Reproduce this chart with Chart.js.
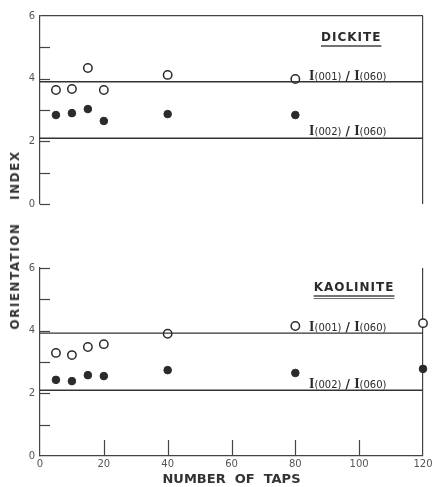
<!DOCTYPE html>
<html><head><meta charset="utf-8">
<script src="https://cdn.jsdelivr.net/npm/chart.js@4.4.1/dist/chart.umd.min.js"></script>
<style>
html,body{margin:0;padding:0;background:#fff;}
#wrap{position:relative;width:432px;height:487px;overflow:hidden;background:#fff;}
#c1{position:absolute;left:0;top:0;}
#c2{position:absolute;left:0;top:220px;}
#ylab{position:absolute;left:15px;top:240px;transform:translate(-50%,-50%) rotate(-90deg);font:bold 12px "DejaVu Sans",sans-serif;letter-spacing:1.5px;color:#333;white-space:pre;}
</style></head><body>
<div id="wrap">
<canvas id="c1" width="432" height="220"></canvas>
<canvas id="c2" width="432" height="267"></canvas>
<div id="ylab">ORIENTATION    INDEX</div>
</div>
<script>
// ---- data ----
const dickiteTaps = [5, 10, 15, 20, 40, 80];
const dickite001 = [3.64, 3.67, 4.34, 3.64, 4.12, 3.99];
const dickite002 = [2.84, 2.90, 3.03, 2.65, 2.87, 2.84];
const kaoliniteTaps = [5, 10, 15, 20, 40, 80, 120];
const kaolinite001 = [3.29, 3.22, 3.48, 3.57, 3.90, 4.15, 4.24];
const kaolinite002 = [2.43, 2.39, 2.58, 2.55, 2.74, 2.65, 2.78];
const refLineX = [0, 120];
const dickiteRefLines = [3.9, 2.1];
const kaoliniteRefLines = [3.92, 2.1];
const xTickLabels = ['0', '20', '40', '60', '80', '100', '120'];
const yTickLabels = ['0', '', '2', '', '4', '', '6'];
const ratioLabel001 = ['I', '(001)', ' / ', 'I', '(060)'];
const ratioLabel002 = ['I', '(002)', ' / ', 'I', '(060)'];

const INK = '#2b2b2b';
const LINE = '#444';

function pts(xs, ys){ return xs.map((x,i)=>({x:x, y:ys[i]})); }
function refLine(v){ return refLineX.map(x=>({x:x, y:v})); }

const panelPlugin = {
  id: 'panel',
  afterDraw(chart){
    const o = chart.options.plugins.panel;
    if(!o) return;
    const {ctx, chartArea: ca, scales:{x, y}} = chart;
    ctx.save();
    ctx.strokeStyle = LINE; ctx.lineWidth = 1.2;
    for(const v of o.yTicks){
      const py = Math.round(y.getPixelForValue(v)) + 0.5;
      ctx.beginPath(); ctx.moveTo(ca.left, py); ctx.lineTo(ca.left + 10, py); ctx.stroke();
    }
    for(const v of o.xTicks){
      const px = Math.round(x.getPixelForValue(v)) + 0.5;
      ctx.beginPath(); ctx.moveTo(px, ca.bottom); ctx.lineTo(px, ca.bottom - 16); ctx.stroke();
    }
    ctx.fillStyle = INK;
    ctx.font = 'bold 12px "DejaVu Sans", sans-serif';
    ctx.textAlign = 'center'; ctx.textBaseline = 'middle';
    const tx = x.getPixelForValue(o.title.x), ty = y.getPixelForValue(o.title.y);
    if (ctx.letterSpacing !== undefined) ctx.letterSpacing = '1px';
    ctx.fillText(o.title.text, tx, ty);
    const w = ctx.measureText(o.title.text).width;
    if (ctx.letterSpacing !== undefined) ctx.letterSpacing = '0px';
    ctx.lineWidth = 1.5;
    ctx.beginPath(); ctx.moveTo(tx - w/2, ty + 8); ctx.lineTo(tx + w/2, ty + 8); ctx.stroke();
    if (o.title.double){
      ctx.lineWidth = 0.8;
      ctx.beginPath(); ctx.moveTo(tx - w/2, ty + 10.5); ctx.lineTo(tx + w/2, ty + 10.5); ctx.stroke();
    }
    ctx.textAlign = 'left'; ctx.textBaseline = 'alphabetic';
    const fonts = ['bold 14px "Liberation Serif", serif', '10px "DejaVu Sans", sans-serif',
                   'bold 12px "DejaVu Sans", sans-serif', 'bold 14px "Liberation Serif", serif',
                   '10px "DejaVu Sans", sans-serif'];
    for(const lab of o.labels){
      let px = x.getPixelForValue(lab.x);
      const py = y.getPixelForValue(lab.y) + 5;
      lab.parts.forEach((t, i)=>{
        ctx.font = fonts[i];
        ctx.fillText(t, px, py);
        px += ctx.measureText(t).width;
      });
    }
    ctx.restore();
  }
};

function makeChart(el, cfg){
  const openDs = {
    label: cfg.name + ' I(001)/I(060)', data: pts(cfg.taps, cfg.v001),
    pointStyle: 'circle', pointRadius: 4.2, pointBackgroundColor: '#fff',
    pointBorderColor: INK, pointBorderWidth: 1.5, clip: false
  };
  const fillDs = {
    label: cfg.name + ' I(002)/I(060)', data: pts(cfg.taps, cfg.v002),
    pointStyle: 'circle', pointRadius: 3.8, pointBackgroundColor: INK,
    pointBorderColor: INK, pointBorderWidth: 1, clip: false
  };
  const refs = cfg.refs.map((v, i)=>({
    label: 'ref ' + i, data: refLine(v), showLine: true, pointRadius: 0,
    borderColor: '#333', borderWidth: 1.4, fill: false
  }));
  return new Chart(el, {
    type: 'scatter',
    data: { datasets: [...refs, openDs, fillDs] },
    options: {
      responsive: false, animation: false,
      layout: { padding: cfg.padding },
      plugins: {
        legend: { display: false }, tooltip: { enabled: false },
        panel: cfg.panel
      },
      scales: {
        x: {
          type: 'linear', min: 0, max: 120,
          ticks: { display: cfg.showX, stepSize: 20, padding: 2, color: '#555',
                   font: { family: '"DejaVu Sans", sans-serif', size: 10 },
                   callback: v => xTickLabels[Math.round(v / 20)] },
          grid: { drawTicks: false, lineWidth: 1.2,
                  color: c => (c.tick && c.tick.value === 120) ? LINE : 'rgba(0,0,0,0)' },
          border: { display: cfg.showX, color: LINE, width: 1.2 },
          title: { display: cfg.showX, text: 'NUMBER  OF  TAPS', color: '#333',
                   padding: { top: 1, bottom: 0 },
                   font: { family: '"DejaVu Sans", sans-serif', size: 13, weight: 'bold' } },
          afterFit: s => { s.height = cfg.xAxisHeight; s.paddingLeft = 0; s.paddingRight = 0; }
        },
        y: {
          type: 'linear', min: 0, max: 6,
          ticks: { stepSize: 1, padding: 5, color: '#555',
                   font: { family: '"DejaVu Sans", sans-serif', size: 10 },
                   callback: v => yTickLabels[Math.round(v)] },
          grid: { drawTicks: false, lineWidth: 1.2,
                  color: c => (cfg.topBorder && c.tick && c.tick.value === 6) ? LINE : 'rgba(0,0,0,0)' },
          border: { display: true, color: LINE, width: 1.2 },
          afterFit: s => { s.width = 40; }
        }
      }
    },
    plugins: [panelPlugin]
  });
}

makeChart(document.getElementById('c1'), {
  name: 'Dickite', taps: dickiteTaps, v001: dickite001, v002: dickite002,
  refs: dickiteRefLines, showX: false, topBorder: true, xAxisHeight: 0,
  padding: { left: 0, right: 9, top: 16, bottom: 16 },
  panel: {
    yTicks: [0, 1, 2, 3, 4, 5], xTicks: [],
    title: { text: 'DICKITE', x: 97.5, y: 5.3, double: false },
    labels: [ { parts: ratioLabel001, x: 84.3, y: 4.12 },
              { parts: ratioLabel002, x: 84.3, y: 2.36 } ]
  }
});

makeChart(document.getElementById('c2'), {
  name: 'Kaolinite', taps: kaoliniteTaps, v001: kaolinite001, v002: kaolinite002,
  refs: kaoliniteRefLines, showX: true, topBorder: false, xAxisHeight: 31,
  padding: { left: 0, right: 9, top: 48, bottom: 0 },
  panel: {
    yTicks: [1, 2, 3, 4, 5, 6], xTicks: [20, 40, 60, 80, 100],
    title: { text: 'KAOLINITE', x: 98.4, y: 5.36, double: true },
    labels: [ { parts: ratioLabel001, x: 84.3, y: 4.15 },
              { parts: ratioLabel002, x: 84.3, y: 2.33 } ]
  }
});
</script>
</body></html>
